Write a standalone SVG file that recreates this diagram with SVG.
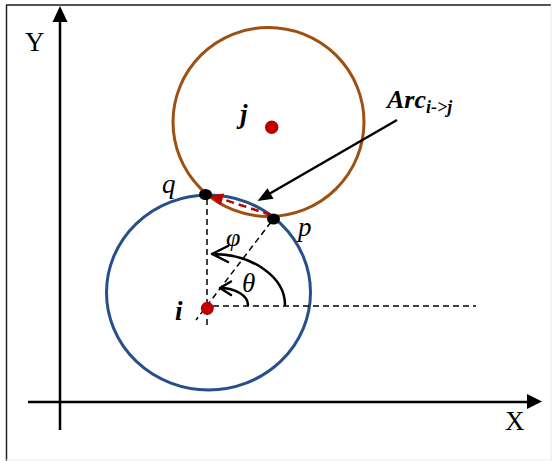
<svg xmlns="http://www.w3.org/2000/svg" width="552" height="461" viewBox="0 0 552 461">
<style>
.ax{stroke:#000;stroke-width:2.5;fill:none}
.dash{stroke:#000;stroke-width:1.5;stroke-dasharray:6 4;fill:none}
.ang{stroke:#000;stroke-width:2.5;fill:none;stroke-linecap:round}
.t{font-family:"Liberation Serif","DejaVu Serif",serif;fill:#000}
.it{font-style:italic}
.bi{font-style:italic;font-weight:bold}
.red{fill:#C00000}
</style>
<rect x="0" y="0" width="552" height="461" fill="#fff"/>
<g id="frame">
<line x1="6" y1="5" x2="551" y2="5" stroke="#555" stroke-width="2"/>
<line x1="6.5" y1="5" x2="6.5" y2="461" stroke="#222" stroke-width="1.5"/>
<line x1="551" y1="5" x2="551" y2="461" stroke="#e6e6e6" stroke-width="1"/>
<line x1="6" y1="460" x2="551" y2="460" stroke="#eeeeee" stroke-width="1"/>
</g>
<g id="axes">
<line class="ax" x1="60" y1="430" x2="60" y2="20"/>
<polygon points="60,6 52.5,22 67.5,22" fill="#000"/>
<line class="ax" x1="28" y1="402" x2="529" y2="402"/>
<polygon points="542,401.5 527,394 527,409" fill="#000"/>
<text class="t" x="25" y="51" font-size="27">Y</text>
<text class="t" x="505" y="430" font-size="27">X</text>
</g>
<g id="circle-i">
<ellipse cx="208.5" cy="292.5" rx="102" ry="97.5" fill="none" stroke="#27508A" stroke-width="3"/>
</g>
<g id="circle-j">
<ellipse cx="268.5" cy="122" rx="95.5" ry="94.5" fill="none" stroke="#9E5012" stroke-width="3"/>
</g>
<g id="connectors">
<line class="dash" x1="207" y1="199" x2="207" y2="326"/>
<line class="dash" x1="213" y1="306" x2="476" y2="306"/>
<line class="dash" x1="271" y1="222" x2="196" y2="320"/>
<path class="ang" d="M285,305 A73,51 0 0 0 212,254 M212,254 L228,246 M212,254 L228,262"/>
<path class="ang" d="M248,305 A28,17 0 0 0 220,288 M220,288 L231,281.5 M220,288 L231,295"/>
<line x1="271" y1="215" x2="222" y2="199" stroke="#C00000" stroke-width="2.5" stroke-dasharray="8 5"/>
<polygon points="209,195.5 220.7,205.2 224.1,193.6" fill="#C00000"/>
<line x1="397" y1="120" x2="269" y2="194" stroke="#000" stroke-width="2.5"/>
<polygon points="257.5,201 273.5,198.7 267.5,188.3" fill="#000"/>
</g>
<g id="node-i">
<circle class="red" cx="207.3" cy="308.3" r="6.5"/>
<text class="t bi" x="175" y="320" font-size="27">i</text>
</g>
<g id="node-j">
<circle class="red" cx="271.7" cy="127.3" r="6.7"/>
<text class="t bi" x="240" y="123" font-size="27">j</text>
</g>
<g id="point-q">
<ellipse cx="205.5" cy="194.5" rx="6.5" ry="5.5" fill="#000"/>
<text class="t it" x="162" y="193" font-size="27">q</text>
</g>
<g id="point-p">
<ellipse cx="273.5" cy="219" rx="6.5" ry="5.5" fill="#000"/>
<text class="t it" x="298" y="236" font-size="27">p</text>
</g>
<g id="angle-labels">
<text class="t it" x="226" y="246" font-size="26">φ</text>
<text class="t it" x="242" y="292" font-size="27">θ</text>
</g>
<g id="arc-label">
<text class="t bi" x="387" y="108" font-size="26">Arc<tspan font-size="18" dy="5">i-&gt;j</tspan></text>
</g>
</svg>
